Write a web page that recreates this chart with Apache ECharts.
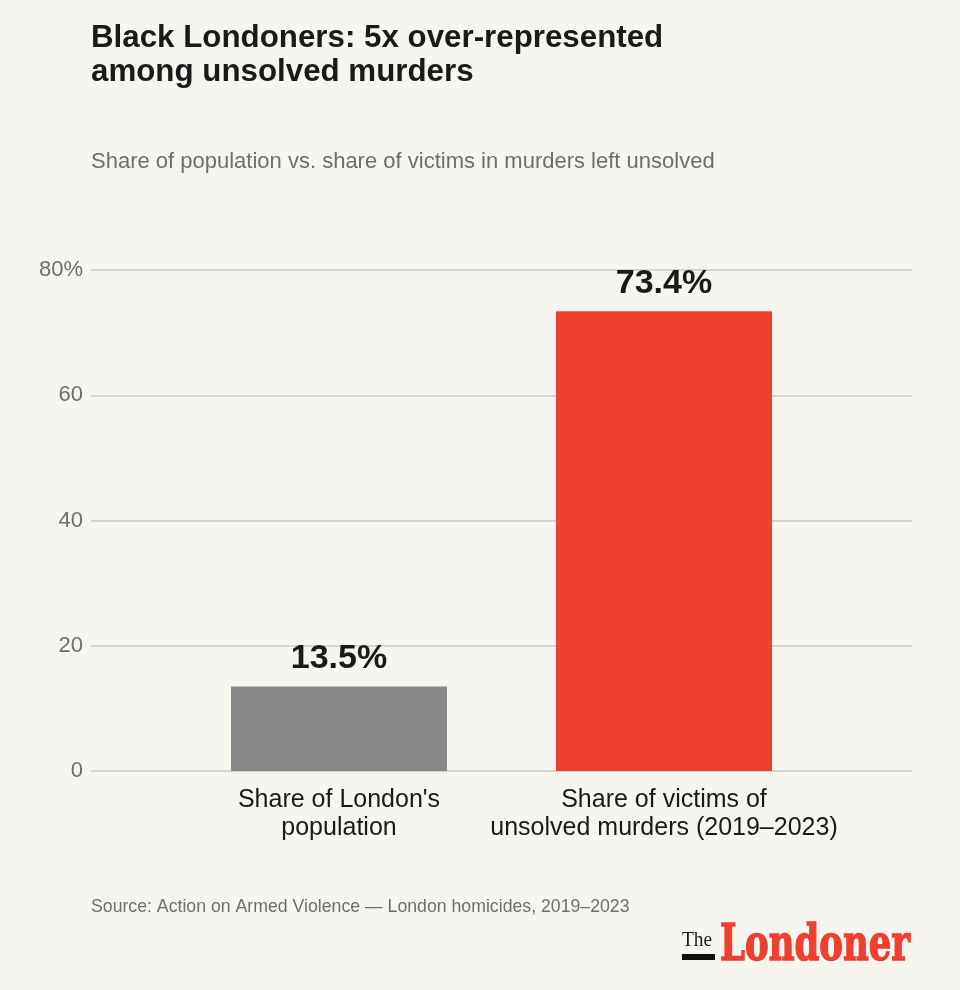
<!DOCTYPE html>
<html>
<head>
<meta charset="utf-8">
<script src="https://cdn.jsdelivr.net/npm/echarts@6/dist/echarts.min.js"></script>
<style>
    html, body { margin: 0; padding: 0; background: #f6f5f0; }
    #mainChart { width: 960px; height: 990px; }
</style>
</head>
<body>
<div id="mainChart"></div>
<script>
const categories = ["Share of London's\npopulation", "Share of victims of\nunsolved murders (2019\u20132023)"];
const values = [13.5, 73.4];
const barColors = ['#888888', '#ee3f2f'];
const yTicks = [0, 20, 40, 60, 80];

const fontFamily = '"Liberation Sans", Arial, sans-serif';
const logoFont = 'bold 50px "DejaVu Serif", serif';

// squeeze the logo word to the width it has in the masthead
function logoScale(text, font, width) {
    const ctx = document.createElement('canvas').getContext('2d');
    ctx.font = font;
    return width / ctx.measureText(text).width;
}

const myChart = echarts.init(document.getElementById('mainChart'));

const option = {
    backgroundColor: '#f6f5f0',
    textStyle: { fontFamily: fontFamily },
    title: [
        {
            text: 'Black Londoners: 5x over-represented\namong unsolved murders',
            left: 91,
            top: 21,
            padding: 0,
            textStyle: {
                fontFamily: fontFamily,
                fontSize: 31.3,
                fontWeight: 'bold',
                lineHeight: 34,
                color: '#1a1a1a'
            }
        },
        {
            text: 'Share of population vs. share of victims in murders left unsolved',
            left: 91,
            top: 151,
            padding: 0,
            textStyle: {
                fontFamily: fontFamily,
                fontSize: 22,
                fontWeight: 'normal',
                color: '#6e6e6e'
            }
        },
        {
            text: 'Source: Action on Armed Violence \u2014 London homicides, 2019\u20132023',
            left: 91,
            top: 898,
            padding: 0,
            textStyle: {
                fontFamily: fontFamily,
                fontSize: 17.7,
                fontWeight: 'normal',
                color: '#6e6e6e'
            }
        }
    ],
    grid: [
        // grid for the gridlines and y labels
        { left: 91, right: 48, top: 270, bottom: 219 },
        // grid for the bars (narrower, so the bars sit where they should)
        { left: 176.5, right: 133.5, top: 270, bottom: 219 }
    ],
    xAxis: [
        {
            type: 'value',
            gridIndex: 0,
            show: false
        },
        {
            type: 'category',
            gridIndex: 1,
            data: categories,
            axisLine: { show: false },
            axisTick: { show: false },
            axisLabel: {
                interval: 0,
                margin: 15,
                fontFamily: fontFamily,
                fontSize: 25,
                lineHeight: 28,
                color: '#1a1a1a'
            }
        }
    ],
    yAxis: [
        {
            type: 'value',
            gridIndex: 0,
            min: yTicks[0],
            max: yTicks[yTicks.length - 1],
            interval: 20,
            axisLine: { show: false },
            axisTick: { show: false },
            axisLabel: {
                margin: 8,
                padding: [4, 0, 0, 0],
                fontFamily: fontFamily,
                fontSize: 22,
                color: '#6e6e6e',
                formatter: function (v) {
                    return v === 80 ? v + '%' : String(v);
                }
            },
            splitLine: {
                lineStyle: { color: '#d6d4ce', width: 2 }
            }
        },
        {
            type: 'value',
            gridIndex: 1,
            min: yTicks[0],
            max: yTicks[yTicks.length - 1],
            interval: 20,
            show: false,
            splitLine: { show: false }
        }
    ],
    series: [
        {
            type: 'bar',
            xAxisIndex: 1,
            yAxisIndex: 1,
            barWidth: 216,
            data: values.map(function (v, i) {
                return { value: v, itemStyle: { color: barColors[i] } };
            }),
            label: {
                show: true,
                position: 'top',
                distance: 11,
                fontFamily: fontFamily,
                fontSize: 34,
                fontWeight: 'bold',
                color: '#1a1a1a',
                formatter: function (p) {
                    return p.value.toFixed(1) + '%';
                }
            }
        }
    ],
    graphic: [
        {
            type: 'text',
            x: 682,
            y: 929,
            scaleX: 0.88,
            style: {
                text: 'The',
                font: '22px "Liberation Serif", serif',
                fill: '#1a1a1a'
            }
        },
        {
            type: 'rect',
            shape: { x: 682, y: 954, width: 33, height: 6 },
            style: { fill: '#111111' }
        },
        {
            type: 'text',
            x: 720,
            y: 922,
            scaleX: logoScale('Londoner', logoFont, 190),
            style: {
                text: 'Londoner',
                font: logoFont,
                fill: '#ee3f2f',
                stroke: '#ee3f2f',
                lineWidth: 1.5
            }
        }
    ]
};

myChart.setOption(option);
</script>
</body>
</html>
